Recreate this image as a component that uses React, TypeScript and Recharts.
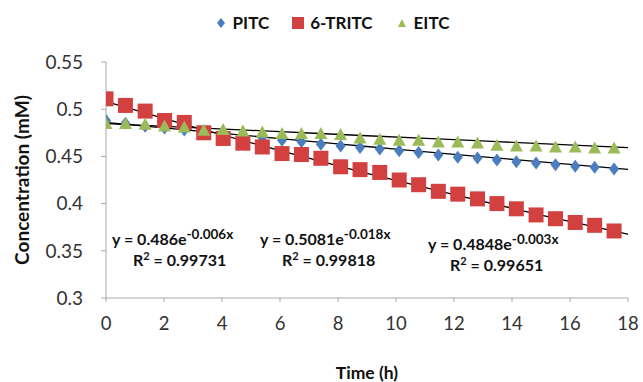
import {
  ComposedChart,
  Scatter,
  Line,
  XAxis,
  YAxis,
  Legend
} from "recharts";

const times = [
  0, 0.67, 1.35, 2.02, 2.7, 3.37, 4.04, 4.72, 5.39, 6.07, 6.74, 7.41, 8.09,
  8.76, 9.44, 10.11, 10.78, 11.46, 12.13, 12.81, 13.48, 14.15, 14.83, 15.5,
  16.18, 16.85, 17.52
];
const pitc = [
  0.488, 0.485, 0.482, 0.48, 0.478, 0.476, 0.474, 0.472, 0.47, 0.467, 0.4655,
  0.463, 0.461, 0.4595, 0.4578, 0.456, 0.4542, 0.4515, 0.449, 0.4483, 0.4462,
  0.4444, 0.443, 0.4412, 0.4395, 0.4384, 0.4367
];
const tritc = [
  0.511, 0.504, 0.498, 0.488, 0.486, 0.475, 0.469, 0.464, 0.46, 0.453, 0.452,
  0.448, 0.439, 0.436, 0.433, 0.425, 0.42, 0.413, 0.41, 0.405, 0.4, 0.3945,
  0.388, 0.384, 0.38, 0.377, 0.371
];
const eitc = [
  0.4842, 0.4842, 0.4835, 0.4817, 0.4806, 0.4771, 0.478, 0.4764, 0.4753,
  0.4736, 0.4736, 0.4736, 0.4726, 0.469, 0.4676, 0.4666, 0.4666, 0.4648,
  0.4648, 0.4637, 0.4613, 0.4605, 0.4605, 0.4595, 0.4595, 0.4584, 0.4584
];

// exponential trendline values at these hours
const trendTimes = [0, 3, 6, 9, 12, 15, 18];
const pitcTrend = [0.486, 0.4773, 0.4688, 0.4605, 0.4522, 0.4442, 0.4362];
const tritcTrend = [0.5081, 0.4814, 0.4561, 0.4321, 0.4094, 0.3879, 0.3675];
const eitcTrend = [0.4848, 0.4805, 0.4762, 0.4719, 0.4677, 0.4635, 0.4593];

const xTicks = [0, 2, 4, 6, 8, 10, 12, 14, 16, 18];
const yTicks = [0.3, 0.35, 0.4, 0.45, 0.5, 0.55];

const BLUE = "#4a7ebf";
const RED = "#d2413f";
const GREEN = "#9bbb59";
const FONT = "Lato, 'Open Sans', sans-serif";

const zip = (xs: number[], ys: number[]) =>
  xs.map((t, i) => ({ t, v: ys[i] }));

const Diamond = ({ cx, cy }: any) => (
  <polygon
    points={`${cx},${cy - 6.5} ${cx + 5},${cy} ${cx},${cy + 6.5} ${cx - 5},${cy}`}
    fill={BLUE}
  />
);
const Square = ({ cx, cy }: any) => (
  <rect x={cx - 7.5} y={cy - 7.5} width={15} height={15} fill={RED} />
);
const Triangle = ({ cx, cy }: any) => (
  <polygon
    points={`${cx},${cy - 7} ${cx + 6.5},${cy + 5} ${cx - 6.5},${cy + 5}`}
    fill={GREEN}
  />
);

const legendItems = [
  { name: "PITC", color: BLUE, shape: "diamond" },
  { name: "6-TRITC", color: RED, shape: "square" },
  { name: "EITC", color: GREEN, shape: "triangle" }
];

const renderLegend = () => (
  <div
    style={{
      display: "flex",
      justifyContent: "center",
      gap: 22,
      height: 20,
      lineHeight: "20px",
      fontFamily: FONT,
      fontWeight: 700,
      fontSize: 17,
      color: "#111",
      marginLeft: 20
    }}
  >
    {legendItems.map((it) => (
      <span key={it.name} style={{ display: "flex", alignItems: "center" }}>
        <svg width={14} height={14} style={{ marginRight: 5 }}>
          {it.shape === "diamond" && (
            <polygon points="7,2 11,7 7,12 3,7" fill={it.color} />
          )}
          {it.shape === "square" && (
            <rect x={1} y={1} width={12} height={12} fill={it.color} />
          )}
          {it.shape === "triangle" && (
            <polygon points="7,3 11,11 3,11" fill={it.color} />
          )}
        </svg>
        {it.name}
      </span>
    ))}
  </div>
);

const eqStyle: React.CSSProperties = {
  position: "absolute",
  fontFamily: FONT,
  fontWeight: 700,
  fontSize: 16,
  color: "#111",
  whiteSpace: "nowrap",
  lineHeight: "18px"
};

const Equation = ({ x, y, a, k, r2, rx }: any) => (
  <>
    <div style={{ ...eqStyle, left: x, top: y }}>
      y = {a}e<sup style={{ fontSize: 13.5 }}>{k}x</sup>
    </div>
    <div style={{ ...eqStyle, left: rx, top: y + 22 }}>
      R<sup style={{ fontSize: 11 }}>2</sup> = {r2}
    </div>
  </>
);

export default function App() {
  return (
    <div style={{ position: "relative", width: 643, height: 382 }}>
      <style>{"body{margin:0}"}</style>
      <ComposedChart
        width={643}
        height={382}
        margin={{ top: 42, right: 15, bottom: 0, left: 0 }}
      >
        <XAxis
          type="number"
          dataKey="t"
          domain={[0, 18]}
          ticks={xTicks}
          allowDataOverflow
          stroke="#aaa"
          tickSize={4}
          tickMargin={15}
          height={84}
          tick={{ fill: "#333", fontSize: 18.5, fontFamily: FONT }}
          label={{
            value: "Time (h)",
            position: "insideBottom",
            offset: 3,
            style: { fontFamily: FONT, fontWeight: 700, fontSize: 17.5, fill: "#111" }
          }}
        />
        <YAxis
          type="number"
          dataKey="v"
          domain={[0.3, 0.55]}
          ticks={yTicks}
          allowDataOverflow
          stroke="#aaa"
          tickSize={5}
          tickMargin={18}
          width={106}
          tick={{ fill: "#333", fontSize: 19, fontFamily: FONT }}
          label={{
            value: "Concentration (mM)",
            angle: -90,
            position: "insideLeft",
            offset: 22,
            style: {
              textAnchor: "middle",
              fontFamily: FONT,
              fontWeight: 700,
              fontSize: 19,
              fill: "#111"
            }
          }}
        />
        <Legend
          verticalAlign="top"
          content={renderLegend}
          wrapperStyle={{ top: 13, left: 0, width: 643 }}
        />
        <Scatter
          data={zip(times, pitc)}
          dataKey="v"
          shape={Diamond}
          isAnimationActive={false}
        />
        <Scatter
          data={zip(times, tritc)}
          dataKey="v"
          shape={Square}
          isAnimationActive={false}
        />
        <Scatter
          data={zip(times, eitc)}
          dataKey="v"
          shape={Triangle}
          isAnimationActive={false}
        />
        <Line
          data={zip(trendTimes, pitcTrend)}
          dataKey="v"
          type="monotone"
          stroke="#000"
          strokeWidth={1.3}
          dot={false}
          isAnimationActive={false}
        />
        <Line
          data={zip(trendTimes, tritcTrend)}
          dataKey="v"
          type="monotone"
          stroke="#000"
          strokeWidth={1.3}
          dot={false}
          isAnimationActive={false}
        />
        <Line
          data={zip(trendTimes, eitcTrend)}
          dataKey="v"
          type="monotone"
          stroke="#000"
          strokeWidth={1.3}
          dot={false}
          isAnimationActive={false}
        />
      </ComposedChart>
      <Equation x={112} y={225} a="0.486" k="-0.006" r2="0.99731" rx={133} />
      <Equation x={260} y={225} a="0.5081" k="-0.018" r2="0.99818" rx={282} />
      <Equation x={428} y={230} a="0.4848" k="-0.003" r2="0.99651" rx={450} />
    </div>
  );
}
